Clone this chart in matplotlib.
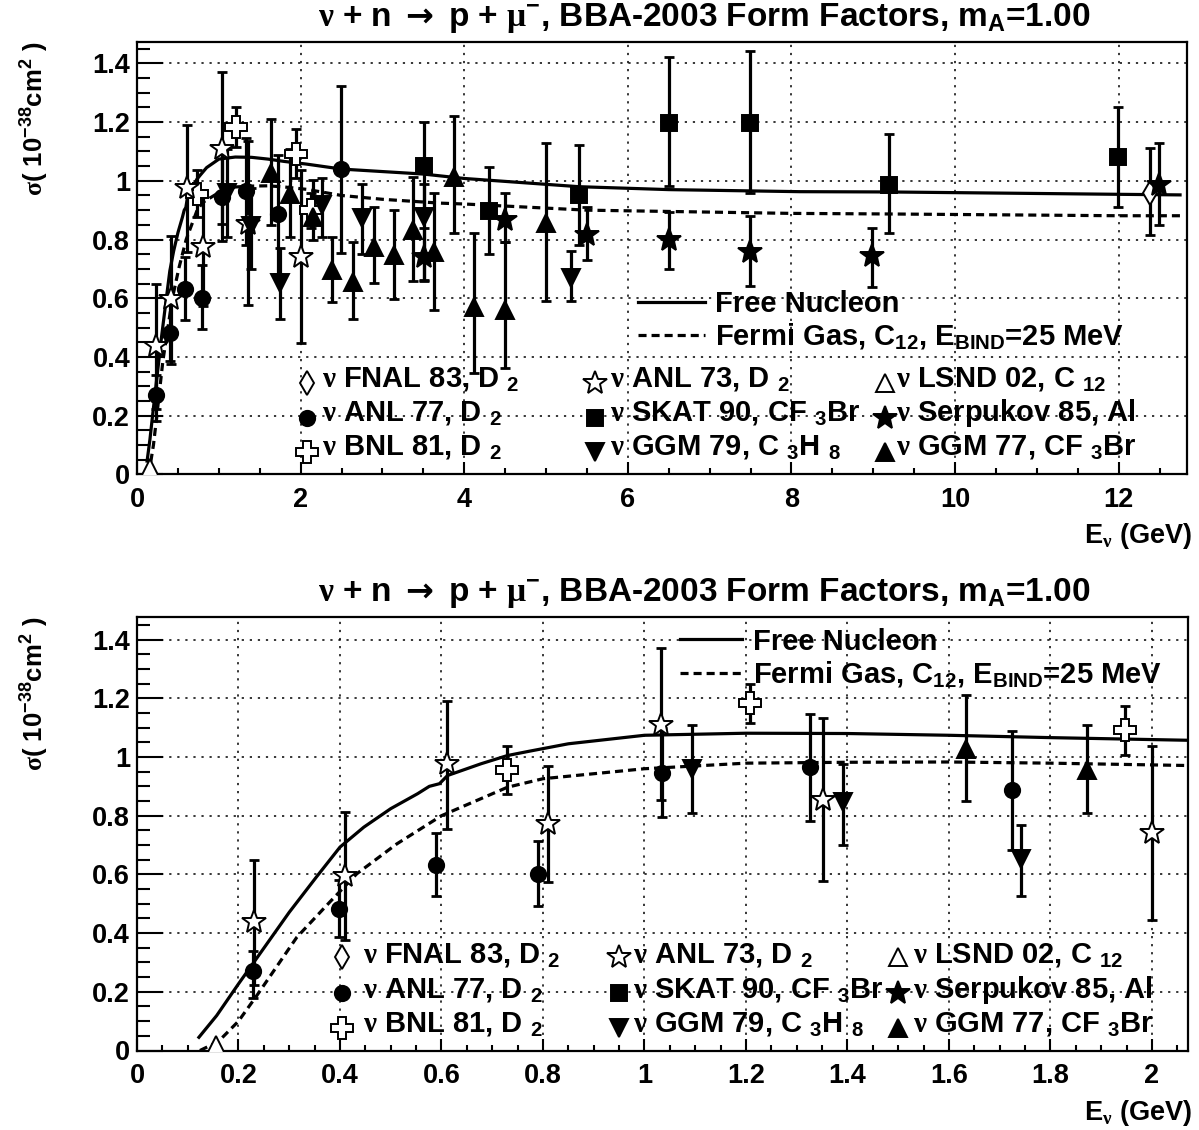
import matplotlib
matplotlib.use("Agg")
import matplotlib.pyplot as plt
from matplotlib.lines import Line2D
from matplotlib.ticker import MultipleLocator, FuncFormatter
import numpy as np

# ---------------- data ----------------
fnal83_E = [12.38]
fnal83_s = [0.957]
fnal83_hi = [1.111]
fnal83_lo = [0.815]

anl77_E = [0.229, 0.398, 0.590, 0.790, 1.034, 1.326, 1.725, 2.49]
anl77_s = [0.27, 0.483, 0.633, 0.602, 0.946, 0.966, 0.886, 1.04]
anl77_hi = [0.34, 0.582, 0.741, 0.713, 1.10, 1.145, 1.087, 1.323]
anl77_lo = [0.18, 0.386, 0.525, 0.494, 0.795, 0.782, 0.682, 0.755]

bnl81_E = [0.730, 1.207, 1.947, 2.12]
bnl81_s = [0.954, 1.184, 1.091, 0.90]
bnl81_hi = [1.037, 1.25, 1.175, 0.96]
bnl81_lo = [0.875, 1.116, 1.008, 0.84]

anl73_E = [0.230, 0.410, 0.610, 0.809, 1.032, 1.352, 2.001]
anl73_s = [0.437, 0.596, 0.977, 0.773, 1.108, 0.854, 0.741]
anl73_hi = [0.65, 0.811, 1.19, 0.969, 1.371, 1.134, 1.037]
anl73_lo = [0.224, 0.375, 0.756, 0.574, 0.852, 0.577, 0.446]

skat90_E = [3.51, 4.30, 5.40, 6.50, 7.49, 9.19, 11.99]
skat90_s = [1.05, 0.898, 0.952, 1.198, 1.198, 0.986, 1.08]
skat90_hi = [1.20, 1.048, 1.122, 1.423, 1.442, 1.16, 1.25]
skat90_lo = [0.90, 0.751, 0.78, 0.982, 0.957, 0.821, 0.912]

ggm79_E = [1.094, 1.392, 1.741, 2.258, 2.747, 3.51, 5.30]
ggm79_s = [0.960, 0.846, 0.653, 0.918, 0.872, 0.878, 0.668]
ggm79_hi = [1.108, 0.977, 0.770, 1.008, 0.989, 0.99, 0.762]
ggm79_lo = [0.809, 0.699, 0.528, 0.81, 0.751, 0.66, 0.592]

lsnd02_E = [0.156]
lsnd02_s = [0.02]
lsnd02_hi = [0.02]
lsnd02_lo = [0.02]

serp85_E = [3.51, 4.50, 5.505, 6.50, 7.49, 8.99, 12.49]
serp85_s = [0.741, 0.866, 0.815, 0.798, 0.758, 0.744, 0.986]
serp85_hi = [0.838, 0.959, 0.912, 0.895, 0.881, 0.838, 1.13]
serp85_lo = [0.662, 0.793, 0.73, 0.70, 0.642, 0.639, 0.849]

ggm77_E = [1.634, 1.871, 2.15, 2.38, 2.64, 2.89, 3.146, 3.37, 3.63, 3.875, 4.12, 4.50, 4.996]
ggm77_s = [1.028, 0.954, 0.878, 0.696, 0.656, 0.776, 0.747, 0.832, 0.758, 1.014, 0.571, 0.56, 0.855]
ggm77_hi = [1.21, 1.11, 1.003, 0.81, 0.793, 0.91, 0.90, 1.014, 0.957, 1.222, 0.821, 0.793, 1.128]
ggm77_lo = [0.85, 0.809, 0.798, 0.588, 0.528, 0.651, 0.597, 0.659, 0.56, 0.821, 0.344, 0.361, 0.59]

free_E = [0.122, 0.157, 0.2, 0.23, 0.3, 0.353, 0.4, 0.447, 0.5, 0.553, 0.576, 0.596,
          0.612, 0.678, 0.73, 0.774, 0.85, 1.0, 1.2, 1.4, 1.6, 1.8, 2.07, 2.5, 3.5,
          4.0, 5.4, 6.5, 8.1, 9.2, 12.0, 12.75]
free_s = [0.045, 0.119, 0.227, 0.30, 0.471, 0.59, 0.693, 0.761, 0.824, 0.875, 0.90, 0.909,
          0.937, 0.977, 1.005, 1.02, 1.045, 1.074, 1.081, 1.08, 1.074, 1.066, 1.057, 1.04, 1.023,
          1.008, 0.98, 0.97, 0.963, 0.962, 0.954, 0.952]

fermi_E = [0.124, 0.16, 0.2, 0.236, 0.315, 0.38, 0.433, 0.512, 0.6, 0.73, 0.8, 1.0, 1.2,
           1.4, 1.6, 1.8, 2.07, 2.5, 3.0, 3.7, 4.0, 5.5, 8.0, 9.2, 12.0, 12.75]
fermi_s = [0.0, 0.03, 0.10, 0.187, 0.386, 0.506, 0.602, 0.704, 0.80, 0.897, 0.926, 0.96, 0.979,
           0.982, 0.983, 0.979, 0.971, 0.95, 0.937, 0.924, 0.921, 0.90, 0.889, 0.887, 0.881, 0.881]

title_text = (r"$\mathrm{\nu}$ + n $\mathsf{\rightarrow}$ p + $\mathrm{\mu}^{-}$, "
              r"BBA-2003 Form Factors, m$_{A}$=1.00")
ylabel_text = r"$\mathrm{\sigma}$( 10$^{-38}$cm$^{2}$ )"
xlabel_text = r"E$_{\mathrm{\nu}}$ (GeV)"
curve_labels = ["Free Nucleon", r"Fermi Gas, C$_{12}$, E$_{BIND}$=25 MeV"]

# ---------------- style ----------------
plt.rcParams.update({
    "font.family": ["Liberation Sans", "DejaVu Sans"],
    "font.weight": "bold",
    "mathtext.fontset": "custom",
    "mathtext.rm": "Liberation Serif",
    "mathtext.it": "Liberation Serif:italic",
    "mathtext.bf": "Liberation Sans:bold",
    "mathtext.sf": "DejaVu Sans",
    "mathtext.default": "regular",
    "lines.scale_dashes": False,
})

W, H = 1199, 1130
fig = plt.figure(figsize=(W / 100, H / 100), dpi=100)


def ax_px(l, t, r, b):
    return fig.add_axes([l / W, 1 - b / H, (r - l) / W, (b - t) / H])


datasets = [
    # E, s, hi, lo, marker, ms, face, label
    (fnal83_E, fnal83_s, fnal83_hi, fnal83_lo, "d", 12, "white", r"$\mathrm{\nu}$ FNAL 83, D $_{2}$"),
    (anl77_E, anl77_s, anl77_hi, anl77_lo, "o", 11, "black", r"$\mathrm{\nu}$ ANL 77, D $_{2}$"),
    (bnl81_E, bnl81_s, bnl81_hi, bnl81_lo, "P", 16, "white", r"$\mathrm{\nu}$ BNL 81, D $_{2}$"),
    (anl73_E, anl73_s, anl73_hi, anl73_lo, "*", 18, "white", r"$\mathrm{\nu}$ ANL 73, D $_{2}$"),
    (skat90_E, skat90_s, skat90_hi, skat90_lo, "s", 11, "black", r"$\mathrm{\nu}$ SKAT 90, CF $_{3}$Br"),
    (ggm79_E, ggm79_s, ggm79_hi, ggm79_lo, "v", 13, "black", r"$\mathrm{\nu}$ GGM 79, C $_{3}$H $_{8}$"),
    (lsnd02_E, lsnd02_s, lsnd02_hi, lsnd02_lo, "^", 13, "white", r"$\mathrm{\nu}$ LSND 02, C $_{12}$"),
    (serp85_E, serp85_s, serp85_hi, serp85_lo, "*", 18, "black", r"$\mathrm{\nu}$ Serpukov 85, Al"),
    (ggm77_E, ggm77_s, ggm77_hi, ggm77_lo, "^", 13, "black", r"$\mathrm{\nu}$ GGM 77, CF $_{3}$Br"),
]

fmt = FuncFormatter(lambda v, p: "%g" % round(v, 6))

TICK_FS = 19.5
LEG_FS = 21
TITLE_FS = 24
LABEL_FS = 19.5


def draw_panel(ax, xmax, ymax, xmajor, xminor):
    ax.plot(free_E, free_s, color="black", lw=2.3, zorder=2)
    ax.plot(fermi_E, fermi_s, color="black", lw=2.3, dashes=(5.8, 3.6), zorder=2)
    for E, s, hi, lo, m, ms, fc, lab in datasets:
        E = np.asarray(E); s = np.asarray(s)
        err = [s - np.asarray(lo), np.asarray(hi) - s]
        if np.any(np.asarray(hi) != s):
            ax.errorbar(E, s, yerr=err, fmt="none", ecolor="black", elinewidth=2.3,
                        capsize=3.8, capthick=2.0, zorder=3)
        ax.plot(E, s, ls="none", marker=m, ms=ms, mfc=fc, mec="black", mew=1.4, zorder=4)
    ax.set_xlim(0, xmax)
    ax.set_ylim(0, ymax)
    ax.xaxis.set_major_locator(MultipleLocator(xmajor))
    ax.xaxis.set_minor_locator(MultipleLocator(xminor))
    ax.yaxis.set_major_locator(MultipleLocator(0.2))
    ax.yaxis.set_minor_locator(MultipleLocator(0.05))
    ax.xaxis.set_major_formatter(fmt)
    ax.yaxis.set_major_formatter(fmt)
    ax.tick_params(axis="both", which="both", direction="in", top=False, right=False,
                   labelsize=TICK_FS, width=1.5)
    ax.tick_params(axis="y", which="major", length=19, pad=5)
    ax.tick_params(axis="y", which="minor", length=9.5)
    ax.tick_params(axis="x", which="major", length=8.5, pad=9)
    ax.tick_params(axis="x", which="minor", length=4.3)
    for lab in ax.get_xticklabels() + ax.get_yticklabels():
        lab.set_fontweight("bold")
    ax.grid(True, which="major", color="black", lw=1.1, dashes=(1.6, 4.2))
    ax.set_axisbelow(True)
    for sp in ax.spines.values():
        sp.set_linewidth(1.6)


ax1 = ax_px(137.1, 41.7, 1187, 474.3)
ax2 = ax_px(137.0, 616.7, 1187.5, 1050.5)
draw_panel(ax1, 12.835, 1.474, 2, 0.5)
draw_panel(ax2, 2.07, 1.478, 0.2, 0.05)


def fline(x0, x1, y, **kw):
    fig.add_artist(Line2D([x0 / W, x1 / W], [1 - y / H, 1 - y / H], transform=fig.transFigure,
                          color="black", **kw))


def fmark(x, y, m, ms, fc):
    fig.add_artist(Line2D([x / W], [1 - y / H], transform=fig.transFigure, ls="none",
                          marker=m, ms=ms, mfc=fc, mec="black", mew=1.4))


def ftext(x, y, s, size=LEG_FS, **kw):
    fig.text(x / W, 1 - y / H, s, fontsize=size, fontweight="bold", **kw)


def legends(curve_x0, curve_x1, curve_tx, curve_y, mark_x, text_x, mark_y, text_base):
    fline(curve_x0, curve_x1, curve_y[0], lw=2.3)
    fline(curve_x0, curve_x1, curve_y[1], lw=2.3, dashes=(5.8, 3.6))
    for lab, y in zip(curve_labels, curve_y):
        ftext(curve_tx, y + 10.5, lab, va="baseline", ha="left")
    for i, (E, s, hi, lo, m, ms, fc, lab) in enumerate(datasets):
        col, row = i // 3, i % 3
        fmark(mark_x[col], mark_y[row], m, ms, fc)
        ftext(text_x[col], text_base[row], lab, va="baseline", ha="left")


legends(638, 705, 715, [301.7, 335], [306.7, 595, 885], [322, 610, 896],
        [383, 418, 452], [387, 421, 455])
legends(680, 742, 753, [639.3, 672.7], [342.3, 619.3, 898.3], [363, 633, 913],
        [957, 993, 1028], [963, 998, 1032])

for ytop, ybot, yt in [(41.7, 474.3, 18), (616.7, 1050.5, 593)]:
    ftext(704, yt, title_text, size=TITLE_FS, ha="center", va="center")
    fig.text(35 / W, 1 - ytop / H, ylabel_text, rotation=90, ha="center", va="top",
             fontsize=18.5, fontweight="bold")
    ftext(1192, ybot + 62, xlabel_text, size=LABEL_FS, ha="right", va="center")

fig.savefig("out.png", dpi=100)
